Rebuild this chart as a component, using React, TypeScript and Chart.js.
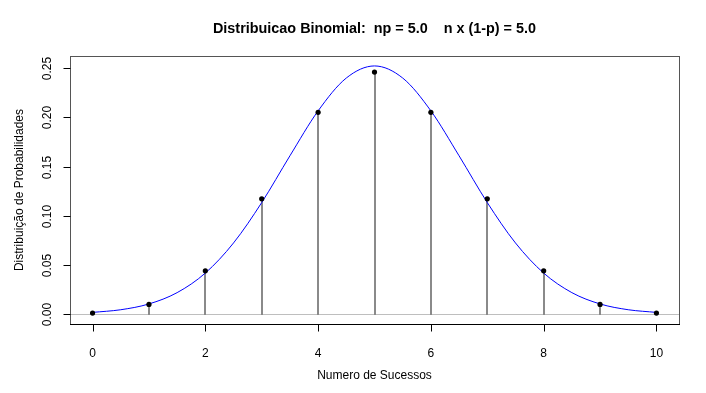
import React, { useEffect, useRef } from "react";
import { Chart, registerables } from "chart.js";

Chart.register(...registerables);

const TITLE = "Distribuicao Binomial:  np = 5.0    n x (1-p) = 5.0";
const X_TITLE = "Numero de Sucessos";
const Y_TITLE = "Distribuição de Probabilidades";

const successes = [0, 1, 2, 3, 4, 5, 6, 7, 8, 9, 10];
const probabilities = [0.00098, 0.00977, 0.04395, 0.11719, 0.20508, 0.24609, 0.20508, 0.11719, 0.04395, 0.00977, 0.00098];

const curveX = [0, 0.5, 1, 1.5, 2, 2.5, 3, 3.5, 4, 4.5, 5, 5.5, 6, 6.5, 7, 7.5, 8, 8.5, 9, 9.5, 10];
const curveY = [0.0017, 0.0044, 0.0103, 0.0218, 0.0417, 0.0723, 0.1134, 0.1609, 0.2066, 0.24, 0.2523, 0.24, 0.2066, 0.1609, 0.1134, 0.0723, 0.0417, 0.0218, 0.0103, 0.0044, 0.0017];

const xTicks = [0, 2, 4, 6, 8, 10];
const yTicks = [0, 0.05, 0.1, 0.15, 0.2, 0.25];
const yTickLabels = ["0.00", "0.05", "0.10", "0.15", "0.20", "0.25"];

const FONT = "'Liberation Sans', Arial, Helvetica, sans-serif";

const decorPlugin = {
  id: "decor",
  beforeDatasetsDraw(chart: any) {
    const { ctx, chartArea, scales } = chart;
    const y0 = Math.round(scales.y.getPixelForValue(0));
    ctx.save();
    ctx.strokeStyle = "#bebebe";
    ctx.lineWidth = 1;
    ctx.beginPath();
    ctx.moveTo(chartArea.left, y0 + 0.5);
    ctx.lineTo(chartArea.right, y0 + 0.5);
    ctx.stroke();
    // spikes
    ctx.fillStyle = "#8a8a8a";
    successes.forEach((x, i) => {
      const px = Math.round(scales.x.getPixelForValue(x));
      const py = Math.round(scales.y.getPixelForValue(probabilities[i]));
      ctx.fillRect(px - 1, py, 2, y0 + 1 - py);
    });
    ctx.restore();
  },
  afterDraw(chart: any) {
    const { ctx, chartArea, scales } = chart;
    const { left, right, top, bottom } = chartArea;
    ctx.save();
    // box
    ctx.strokeStyle = "#555555";
    ctx.lineWidth = 1;
    ctx.strokeRect(Math.round(left) + 0.5, Math.round(top) + 0.5, Math.round(right - left), Math.round(bottom - top));
    ctx.strokeStyle = "#000000";
    ctx.beginPath();
    ctx.moveTo(left, Math.round(bottom) + 0.5);
    ctx.lineTo(right + 1, Math.round(bottom) + 0.5);
    ctx.stroke();
    // y ticks + labels
    ctx.fillStyle = "#000";
    ctx.font = `12px ${FONT}`;
    yTicks.forEach((v, i) => {
      const py = Math.round(scales.y.getPixelForValue(v)) + 0.5;
      ctx.beginPath();
      ctx.moveTo(Math.round(left) + 0.5, py);
      ctx.lineTo(Math.round(left) - 6.5, py);
      ctx.stroke();
      ctx.save();
      ctx.translate(48, py);
      ctx.rotate(-Math.PI / 2);
      ctx.textAlign = "center";
      ctx.textBaseline = "middle";
      ctx.fillText(yTickLabels[i], 0, 0);
      ctx.restore();
    });
    // x ticks
    xTicks.forEach((v) => {
      const px = Math.round(scales.x.getPixelForValue(v)) + 0.5;
      ctx.beginPath();
      ctx.moveTo(px, Math.round(bottom) + 0.5);
      ctx.lineTo(px, Math.round(bottom) + 7.5);
      ctx.stroke();
    });
    // titles
    const cx = (left + right) / 2;
    ctx.textAlign = "center";
    ctx.textBaseline = "middle";
    ctx.font = `bold 14.4px ${FONT}`;
    ctx.fillText(TITLE, cx, 29);
    ctx.font = `12px ${FONT}`;
    ctx.fillText(X_TITLE, cx, 376);
    ctx.save();
    ctx.translate(20, (top + bottom) / 2);
    ctx.rotate(-Math.PI / 2);
    ctx.fillText(Y_TITLE, 0, 0);
    ctx.restore();
    ctx.restore();
  },
};

export default function App() {
  const ref = useRef<HTMLCanvasElement>(null);
  useEffect(() => {
    if (!ref.current) return;
    const chart = new Chart(ref.current, {
      type: "scatter",
      data: {
        datasets: [
          {
            type: "scatter",
            label: "points",
            data: successes.map((x, i) => ({ x, y: probabilities[i] })),
            backgroundColor: "#000",
            borderColor: "#000",
            borderWidth: 0,
            pointRadius: 2.6,
            pointHoverRadius: 2.6,
            showLine: false,
            order: 0,
          } as any,
          {
            type: "line",
            label: "curve",
            data: curveX.map((x, i) => ({ x, y: curveY[i] })),
            borderColor: "#0000ff",
            borderWidth: 1,
            pointRadius: 0,
            fill: false,
            cubicInterpolationMode: "monotone",
            order: 1,
          } as any,
        ],
      },
      options: {
        animation: false,
        responsive: false,
        layout: { padding: { top: 56, right: 27, left: 0, bottom: 0 } },
        plugins: { legend: { display: false }, tooltip: { enabled: false }, title: { display: false } },
        scales: {
          x: {
            type: "linear",
            min: -0.4,
            max: 10.4,
            offset: false,
            grid: { display: false },
            border: { display: false },
            afterBuildTicks: (s: any) => {
              s.ticks = xTicks.map((v) => ({ value: v }));
            },
            afterFit: (s: any) => {
              s.height = 69;
            },
            ticks: {
              color: "#000",
              font: { family: FONT, size: 12 },
              padding: 14,
              maxRotation: 0,
              autoSkip: false,
              callback: (v: any) => String(v),
            },
          },
          y: {
            type: "linear",
            min: -0.0101,
            max: 0.2624,
            grid: { display: false },
            border: { display: false },
            afterBuildTicks: (s: any) => {
              s.ticks = yTicks.map((v) => ({ value: v }));
            },
            afterFit: (s: any) => {
              s.width = 70;
            },
            ticks: { display: false },
          },
        },
      },
      plugins: [decorPlugin],
    });
    return () => chart.destroy();
  }, []);
  return (
    <div style={{ position: "fixed", left: 0, top: 0, width: 706, height: 393, background: "#fff" }}>
      <canvas ref={ref} width={706} height={393} />
    </div>
  );
}
